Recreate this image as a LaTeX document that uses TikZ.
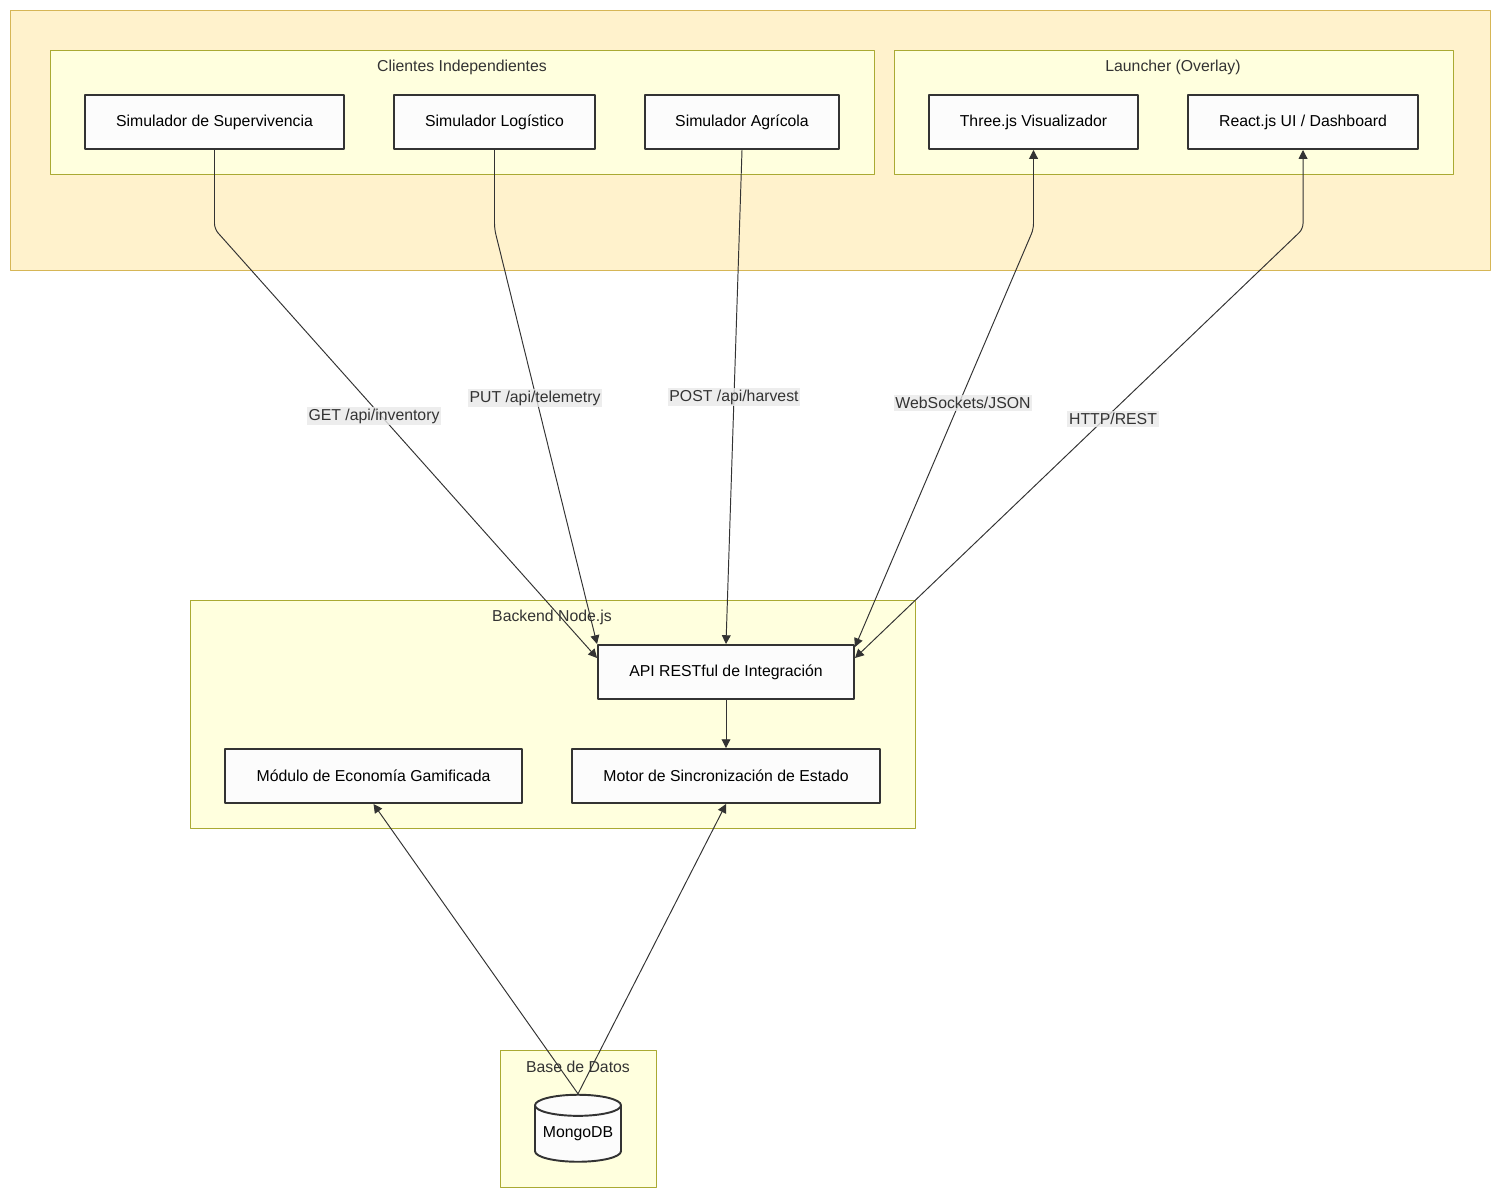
\documentclass[tikz,border=0pt]{standalone}
\usepackage{fontspec}
\setmainfont{Liberation Sans}
\usetikzlibrary{arrows.meta,positioning,shapes.geometric}
\definecolor{arqInk}{HTML}{333333}
\definecolor{arqOuter}{HTML}{FFF2CC}
\definecolor{arqOuterLine}{HTML}{D6B656}
\definecolor{arqGroup}{HTML}{FFFFDE}
\definecolor{arqGroupLine}{HTML}{AAAA33}
\definecolor{arqBox}{HTML}{FCFCFC}
\definecolor{arqLabel}{HTML}{E8E8E8}
\tikzset{
  arq diagram/.style={font=\fontsize{9}{11}\selectfont, text=arqInk,
    line join=round},
  arq outer/.style={draw=arqOuterLine, fill=arqOuter, line width=0.5pt},
  arq group/.style={draw=arqGroupLine, fill=arqGroup, line width=0.5pt},
  arq box/.style={draw=arqInk, fill=arqBox, line width=1.1pt,
    inner sep=0pt, text=black},
  arq size/.style 2 args={minimum width=#1*0.02cm, minimum height=#2*0.02cm},
  arq link/.style={draw=arqInk, line width=0.55pt, rounded corners=3pt},
  arq arrow/.style={arq link, -{Triangle[length=5pt,width=5pt]}},
  arq both/.style={arq link,
    {Triangle[length=5pt,width=5pt]}-{Triangle[length=5pt,width=5pt]}},
  arq label/.style={fill=arqLabel, fill opacity=0.8, text opacity=1,
    inner sep=1pt}
}

\begin{document}
\begin{tikzpicture}[arq diagram,x=0.02cm,y=-0.02cm]
\useasboundingbox (0,0) rectangle (1500,1197);
% groups
\draw[arq outer] (10,10) rectangle (1490,270);
\draw[arq group] (50,50) rectangle (874,174);
\draw[arq group] (894,50) rectangle (1453,174);
\draw[arq group] (190,600) rectangle (915,828);
\draw[arq group] (500,1050) rectangle (656,1187);
\node (clientes) at (462,67) {Clientes Independientes};
\node (launcher) at (1173,67) {Launcher (Overlay)};
\node (backend) at (552,617) {Backend Node.js};
\node (datos) at (578,1067) {Base de Datos};
% clients and launcher
\node[arq box,arq size={259}{54}] (sup) at (214.5,122) {Simulador de Supervivencia};
\node[arq box,arq size={201}{54}] (log) at (494.5,122) {Simulador Logístico};
\node[arq box,arq size={194}{54}] (agr) at (742,122) {Simulador Agrícola};
\node[arq box,arq size={209}{54}] (three) at (1033.5,122) {Three.js Visualizador};
\node[arq box,arq size={230}{54}] (react) at (1303,122) {React.js UI / Dashboard};
% backend
\node[arq box,arq size={256}{54}] (api) at (726,672) {API RESTful de Integración};
\node[arq box,arq size={297}{54}] (eco) at (373.5,776) {Módulo de Economía Gamificada};
\node[arq box,arq size={308}{54}] (sync) at (726,776) {Motor de Sincronización de Estado};
% database
\node[arq box,cylinder,shape border rotate=90,aspect=0.3,
  arq size={86}{67}] (mongo) at (578,1134) {MongoDB};
% bends
\coordinate (supbend) at ([yshift=-1.58cm]sup.south);
\coordinate (logbend) at ([yshift=-1.58cm]log.south);
\coordinate (threebend) at ([yshift=-1.58cm]three.south);
\coordinate (reactbend) at ([yshift=-1.58cm]react.south);
% connectors
\draw[arq arrow] (sup.south) -- (supbend) -- ([yshift=0.28cm]api.west);
\draw[arq arrow] (log.south) -- (logbend) -- (api.north west);
\draw[arq arrow] (agr.south) -- (api.north);
\draw[arq both] ([yshift=-0.06cm]api.north east) -- (threebend) -- (three.south);
\draw[arq both] ([yshift=0.28cm]api.east) -- (reactbend) -- (react.south);
\draw[arq arrow] (api) -- (sync);
\draw[arq arrow] (mongo.north) -- (eco.south);
\draw[arq arrow] (mongo.north) -- (sync.south);
% labels
\node[arq label] (lget) at (374,416) {GET /api/inventory};
\node[arq label] (lput) at (535,398) {PUT /api/telemetry};
\node[arq label] (lpost) at (734,397) {POST /api/harvest};
\node[arq label] (lws) at (963,403) {WebSockets/JSON};
\node[arq label] (lhttp) at (1113,419) {HTTP/REST};
\end{tikzpicture}
\end{document}
